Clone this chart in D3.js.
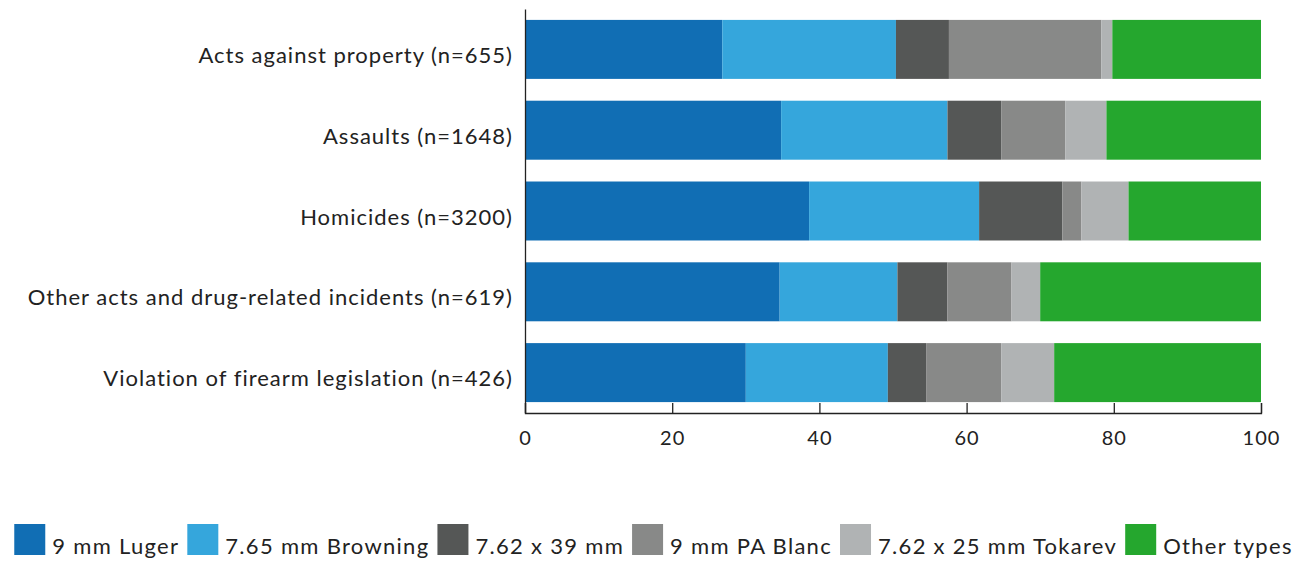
<!DOCTYPE html>
<html>
<head>
<meta charset="utf-8">
<script src="https://cdn.jsdelivr.net/npm/d3@7"></script>
<style>
  body { margin: 0; background: #fff; }
  svg text { font-family: Lato, "Open Sans", sans-serif; fill: #222; }
</style>
</head>
<body>
<svg id="chart" width="1307" height="561"></svg>
<script>
const categories = [
  "Acts against property (n=655)",
  "Assaults (n=1648)",
  "Homicides (n=3200)",
  "Other acts and drug-related incidents (n=619)",
  "Violation of firearm legislation (n=426)"
];
const seriesNames = ["9 mm Luger", "7.65 mm Browning", "7.62 x 39 mm", "9 mm PA Blanc", "7.62 x 25 mm Tokarev", "Other types"];
const luger    = [26.8, 34.8, 38.6, 34.6, 30.0];
const browning = [23.6, 22.6, 23.1, 16.0, 19.3];
const cal76239 = [7.2, 7.3, 11.3, 6.8, 5.2];
const paBlanc  = [20.7, 8.7, 2.6, 8.7, 10.2];
const tokarev  = [1.5, 5.6, 6.4, 3.9, 7.2];
const other    = [20.2, 21.0, 18.0, 30.0, 28.1];
const colors = ["#116eb4", "#35a6dc", "#555756", "#888988", "#b0b3b4", "#25a72e"];
const xTicks = [0, 20, 40, 60, 80, 100];

const svg = d3.select("#chart");
const margin = { top: 9, left: 525, right: 46 };
const width = 1307 - margin.left - margin.right;
const height = 404;

const rows = categories.map((c, i) => {
  const r = { cat: c };
  [luger, browning, cal76239, paBlanc, tokarev, other].forEach((arr, k) => r[seriesNames[k]] = arr[i]);
  return r;
});
const stacked = d3.stack().keys(seriesNames)(rows);

const x = d3.scaleLinear().domain([0, 100]).range([0, width]);
const y = d3.scaleBand().domain(categories).range([0, height]).paddingInner(0.27).paddingOuter(0.135);
const color = d3.scaleOrdinal().domain(seriesNames).range(colors);

const g = svg.append("g").attr("transform", `translate(${margin.left},${margin.top})`);

g.selectAll(".series")
  .data(stacked)
  .enter().append("g")
  .attr("fill", d => color(d.key))
  .selectAll("rect")
  .data(d => d)
  .enter().append("rect")
  .attr("x", d => x(d[0]))
  .attr("y", d => y(d.data.cat))
  .attr("width", d => x(d[1]) - x(d[0]))
  .attr("height", y.bandwidth());

// x axis, ticks point up
const xAxis = g.append("g")
  .attr("transform", `translate(0,${height})`)
  .call(d3.axisBottom(x).tickValues(xTicks).tickSize(-10).tickPadding(18));
xAxis.selectAll("path, line").attr("stroke", "#222").attr("stroke-width", 1.3);
xAxis.selectAll("text")
  .attr("font-size", 20)
  .style("letter-spacing", "1px")
  .style("font-family", "Lato, sans-serif");

// y axis
const yAxis = g.append("g")
  .call(d3.axisLeft(y).tickSize(0).tickPadding(12));
yAxis.select(".domain").attr("stroke", "#222").attr("stroke-width", 1.3);
yAxis.selectAll("text")
  .attr("font-size", 22)
  .attr("dy", "0.62em")
  .style("letter-spacing", "1px")
  .style("font-family", "Lato, sans-serif");

// legend, centred
const legend = svg.append("g");
const items = legend.selectAll(".item")
  .data(seriesNames)
  .enter().append("g").attr("class", "item");
items.append("rect")
  .attr("width", 31).attr("height", 31)
  .attr("y", 524)
  .attr("fill", d => color(d));
items.append("text")
  .attr("x", 38).attr("y", 554)
  .attr("font-size", 22)
  .style("letter-spacing", "1.3px")
  .text(d => d);
let cursor = 0;
items.each(function () {
  const w = 38 + d3.select(this).select("text").node().getComputedTextLength();
  d3.select(this).attr("transform", `translate(${cursor},0)`);
  cursor += w + 8;
});
const total = cursor - 8;
legend.attr("transform", `translate(${(1307 - total) / 2},0)`);
</script>
</body>
</html>
